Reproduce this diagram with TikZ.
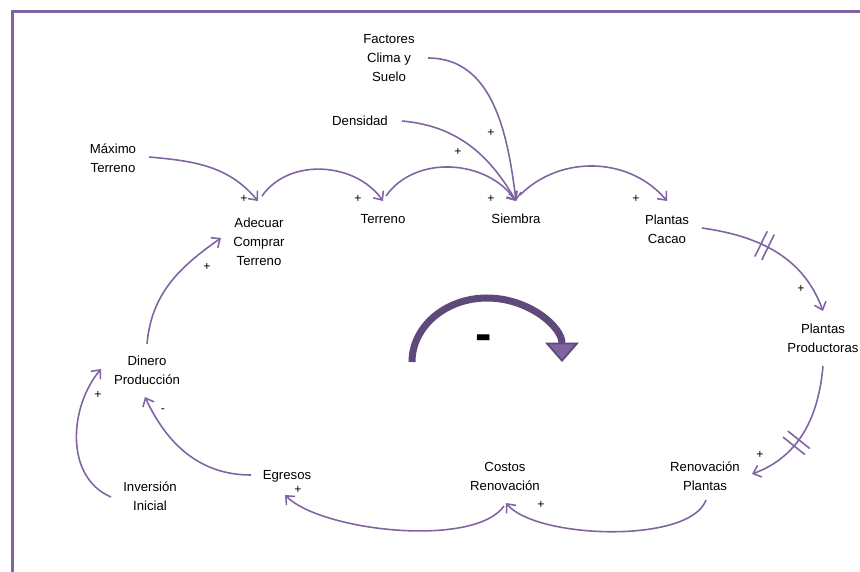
\documentclass[tikz,border=0pt]{standalone}
\usepackage{fontspec}
\setmainfont{Liberation Sans}
\usetikzlibrary{arrows.meta,calc,decorations.markings}
\definecolor{lpurple}{HTML}{8064A2}
\definecolor{dpurple}{HTML}{5F497A}
\begin{document}
\begin{tikzpicture}[x=0.02cm, y=-0.02cm, font=\fontsize{7.5}{10.8}\selectfont,
      >={Straight Barb[length=4pt,width=7pt]},
      var/.style={align=center, inner sep=1pt},
      sgn/.style={inner sep=0pt, font=\fontsize{7}{8}\selectfont},
      link/.style={->, draw=lpurple, line width=0.9pt},
      delay/.style={postaction={decorate, decoration={markings,
        mark=at position #1 with {\draw[-, lpurple, line width=0.9pt] (-2.2pt,-8pt) -- (-2.2pt,8pt) (2.2pt,-8pt) -- (2.2pt,8pt);}}}}]
    \useasboundingbox (0,0) rectangle (860,572);
    \draw[lpurple, line width=1.7pt] (12.5,572) -- (12.5,11.5) -- (860,11.5);
    % variables
    \node[var] (factores) at (389,58) {Factores\\Clima y\\Suelo};
    \node[var] (densidad) at (360,121) {Densidad};
    \node[var] (maximo) at (113,158) {Máximo\\Terreno};
    \node[var] (adecuar) at (259,242) {Adecuar\\Comprar\\Terreno};
    \node[var] (terreno) at (383,219) {Terreno};
    \node[var] (siembra) at (516,219) {Siembra};
    \node[var] (cacao) at (667,229) {Plantas\\Cacao};
    \node[var] (productoras) at (823,338) {Plantas\\Productoras};
    \node[var] (renovacion) at (705,476) {Renovación\\Plantas};
    \node[var] (costos) at (505,476) {Costos\\Renovación};
    \node[var] (egresos) at (287,476) {Egresos};
    \node[var] (inversion) at (150,496) {Inversión\\Inicial};
    \node[var] (dinero) at (147,370) {Dinero\\Producción};
    % links
    \draw[link] ($(maximo)+(36,-1)$) to[out=-5, in=130] ($(adecuar)+(-1,-41)$);
    \draw[link] ($(adecuar)+(3,-46)$) to[out=55, in=125] ($(terreno)+(0,-18)$);
    \draw[link] ($(terreno)+(3,-23)$) to[out=55, in=125] ($(siembra)+(0,-18)$);
    \draw[link] ($(siembra)+(4,-24)$) to[out=45, in=130] ($(cacao)+(0,-28)$);
    \draw[link] ($(densidad)+(42,0)$) to[out=-5, in=120] ($(siembra)+(0,-18)$);
    \draw[link] ($(factores)+(39,0)$) to[out=0, in=97] ($(siembra)+(0,-18)$);
    \draw[link, delay=0.42] ($(cacao)+(35,-1)$) to[out=-8, in=110] ($(productoras)+(0,-27)$);
    \draw[link, delay=0.6] ($(productoras)+(0,28)$) to[out=-95, in=20] ($(renovacion)+(47,-2)$);
    \draw[link] ($(renovacion)+(1,24)$) to[out=-110, in=-50, looseness=0.6] ($(costos)+(1,27)$);
    \draw[link] ($(costos)+(-1,30)$) to[out=-125, in=-45, looseness=0.6] ($(egresos)+(-2,19)$);
    \draw[link] ($(egresos)+(-36,-1)$) to[out=180, in=-65] ($(dinero)+(-2,27)$);
    \draw[link] ($(inversion)+(-39,1)$) to[out=157, in=-130] ($(dinero)+(-46,-1)$);
    \draw[link] ($(dinero)+(0,-26)$) to[out=85, in=-145] ($(adecuar)+(-38,-4)$);
    % polarities
    \node[sgn] (p1) at (244,199) {+};
    \node[sgn] (p2) at (358,199) {+};
    \node[sgn] (p3) at (491,199) {+};
    \node[sgn] (p4) at (636,199) {+};
    \node[sgn] (p5) at (458,152) {+};
    \node[sgn] (p6) at (491,133) {+};
    \node[sgn] (p7) at (207,267) {+};
    \node[sgn] (p8) at (801,289) {+};
    \node[sgn] (p9) at (760,455) {+};
    \node[sgn] (p10) at (541,505) {+};
    \node[sgn] (p11) at (298,490) {+};
    \node[sgn] (p12) at (163,411) {-};
    \node[sgn] (p13) at (98,395) {+};
    % loop sign
    \draw[dpurple, line width=4pt, -{Triangle[length=11pt,width=19pt,fill=lpurple,line width=1pt]}]
      (412,362) arc[start angle=180, end angle=360, x radius=75, y radius=64];
    \node[inner sep=0pt, font=\fontsize{28}{30}\selectfont\bfseries] (bucle) at (484,343) {-};
  \end{tikzpicture}
\end{document}
